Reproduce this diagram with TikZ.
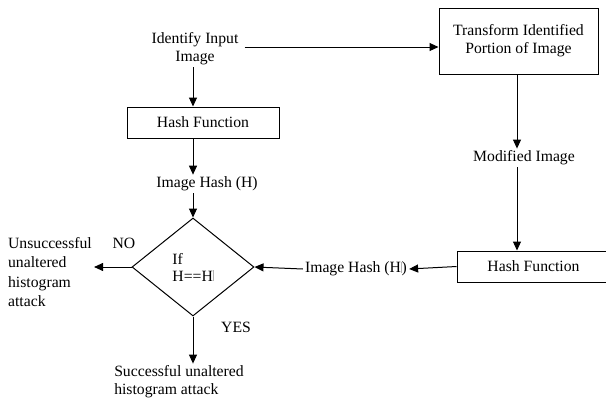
\documentclass[tikz,border=0pt]{standalone}
\usepackage{fontspec}
\setmainfont{Liberation Serif}
\usetikzlibrary{arrows.meta,shapes.geometric}
\newcommand{\hbarmark}{H\textcolor{black!30}{\rule{0.7pt}{0.7em}}}
\begin{document}
\begin{tikzpicture}[x=1pt,y=-1pt,
  font=\rmfamily\fontsize{15.7}{18}\selectfont,
  box/.style={draw,line width=1pt,inner sep=0pt,align=center},
  txt/.style={inner sep=2pt,align=center},
  arr/.style={line width=1pt,-{Triangle[length=9pt,width=8pt]}}]
\useasboundingbox (0,0) rectangle (606,397);
\coordinate (cx) at (193,0);
\coordinate (rx) at (517,0);
% left column
\node[txt] (id) at (195,49) {Identify Input\\Image};
\node[box,minimum width=152pt,minimum height=31pt] (hf1) at (203,122.5) {Hash Function};
\node[txt] (ih1) at (207,184) {Image Hash (H)};
\node[draw,diamond,line width=1pt,minimum width=122pt,minimum height=98pt,inner sep=0pt,align=left] (dia) at (193,267) {If\\[-1pt]H==\hbarmark};
\node[txt] (no) at (124,243) {NO};
\node[txt] (yes) at (236,327) {YES};
\node[txt,align=left,font=\rmfamily\fontsize{15.7}{19.3}\selectfont] (uns) at (50,272) {Unsuccessful\\unaltered\\histogram\\attack};
\node[txt,align=left] (suc) at (179,382) {Successful unaltered\\histogram attack};
% right column
\node[box,minimum width=159pt,minimum height=66pt] (tr) at (518.5,41) {Transform Identified\\Portion of Image};
\node[txt] (mod) at (524,158) {Modified Image};
\node[box,minimum width=153pt,minimum height=31pt] (hf2) at (533.5,266.5) {Hash Function};
\node[txt] (ih2) at (356,269) {Image Hash (\hbarmark)};
% connectors
\draw[arr,shorten <=4pt] ([yshift=2pt]id.east) -- ([yshift=2pt]id.east -| tr.west);
\draw[arr] (id.south -| cx) -- (hf1.north -| cx);
\draw[arr] (hf1.south -| cx) -- (ih1.north -| cx);
\draw[arr] (ih1.south -| cx) -- (dia.north);
\draw[arr] (dia.west) -- (dia.west -| uns.east);
\draw[arr] (dia.south) -- (dia.south |- suc.north);
\draw[arr] (tr.south -| rx) -- (mod.north -| rx);
\draw[arr] (mod.south -| rx) -- (hf2.north -| rx);
\draw[arr] (hf2.west) -- (ih2.east);
\draw[arr] (ih2.west) -- (dia.east);
\end{tikzpicture}
\end{document}
